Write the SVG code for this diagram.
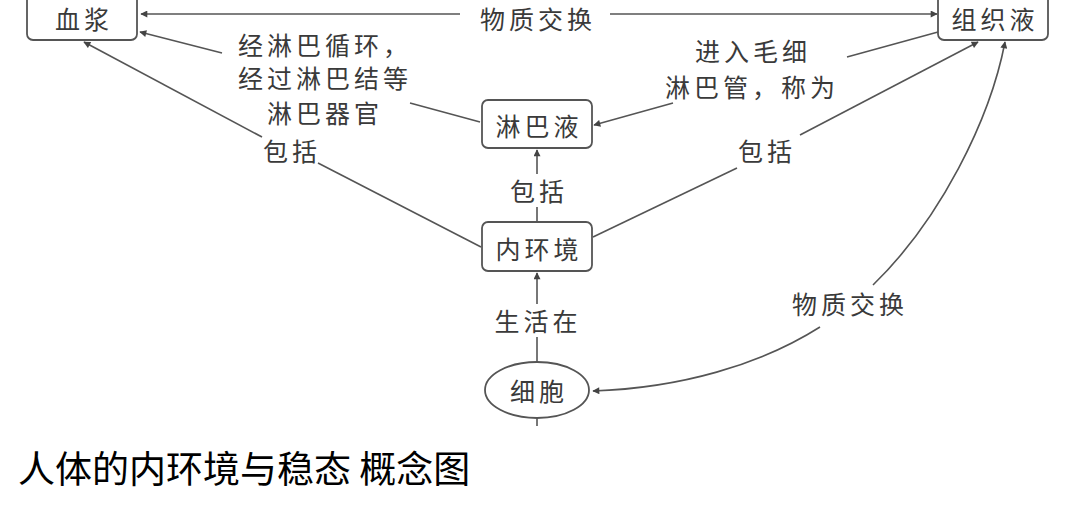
<svg xmlns="http://www.w3.org/2000/svg" width="1080" height="515" viewBox="0 0 1080 515">
<style>
.box{fill:#fff;stroke:#555;stroke-width:1.8}
.lbl{font-family:"Noto Sans CJK SC","Noto Sans CJK JP",sans-serif;font-size:25px;fill:#3a3a3a;letter-spacing:4px;dominant-baseline:central}
.c{text-anchor:middle}
.ln{fill:none;stroke:#555;stroke-width:1.6}
.title{font-family:"Noto Sans CJK SC","Noto Sans CJK JP",sans-serif;font-size:37px;fill:#000}
</style>
<defs>
<marker id="ah" viewBox="0 0 10 10" refX="9" refY="5" markerWidth="9" markerHeight="7" markerUnits="userSpaceOnUse" orient="auto-start-reverse">
<path d="M0,0 L10,5 L0,10 z" fill="#444"/>
</marker>
</defs>
<rect width="1080" height="515" fill="#fff"/>
<g id="connectors">
<path class="ln" d="M460 14 L141 14" marker-end="url(#ah)"/>
<path class="ln" d="M610 14 L937 14" marker-end="url(#ah)"/>
<path class="ln" d="M480 122 L410 103"/>
<path class="ln" d="M222 53 L140 32" marker-end="url(#ah)"/>
<path class="ln" d="M938 32 L847 57"/>
<path class="ln" d="M673 103 L594 125" marker-end="url(#ah)"/>
<path class="ln" d="M481 247 L318 163"/>
<path class="ln" d="M262 137 L84 42" marker-end="url(#ah)"/>
<path class="ln" d="M593 237 L737 168"/>
<path class="ln" d="M800 135 L978 42" marker-end="url(#ah)"/>
<path class="ln" d="M537 222 L537 207"/>
<path class="ln" d="M537 174 L537 150" marker-end="url(#ah)"/>
<path class="ln" d="M537 362 L537 337"/>
<path class="ln" d="M537 304 L537 273" marker-end="url(#ah)"/>
<path class="ln" d="M873 285 C940 220 990 120 1005 42" marker-end="url(#ah)"/>
<path class="ln" d="M820 327 C760 365 680 388 593 391" marker-end="url(#ah)"/>
<path class="ln" d="M537 418 L537 426"/>
<text class="lbl c" x="538" y="18">物质交换</text>
<text class="lbl" x="238" y="44">经淋巴循环，</text>
<text class="lbl" x="238" y="77">经过淋巴结等</text>
<text class="lbl" x="267" y="112">淋巴器官</text>
<text class="lbl c" x="292" y="150">包括</text>
<text class="lbl" x="695" y="50">进入毛细</text>
<text class="lbl" x="665" y="86">淋巴管，称为</text>
<text class="lbl c" x="767" y="150">包括</text>
<text class="lbl c" x="539" y="190">包括</text>
<text class="lbl c" x="538" y="320">生活在</text>
<text class="lbl c" x="850" y="303">物质交换</text>
</g>
<g id="xuejiang">
<rect class="box" x="27" y="-10" width="110" height="50" rx="6"/>
<text class="lbl c" x="84" y="18">血浆</text>
</g>
<g id="zuzhiye">
<rect class="box" x="938" y="-10" width="110" height="50" rx="6"/>
<text class="lbl c" x="995" y="18">组织液</text>
</g>
<g id="linbaye">
<rect class="box" x="482" y="100" width="110" height="48" rx="6"/>
<text class="lbl c" x="539" y="125">淋巴液</text>
</g>
<g id="neihuanjing">
<rect class="box" x="482" y="222" width="110" height="49" rx="6"/>
<text class="lbl c" x="539" y="248">内环境</text>
</g>
<g id="xibao">
<ellipse class="box" cx="537" cy="390" rx="52" ry="28"/>
<text class="lbl c" x="539" y="390">细胞</text>
</g>
<text class="title" x="18" y="483">人体的内环境与稳态 概念图</text>
</svg>
